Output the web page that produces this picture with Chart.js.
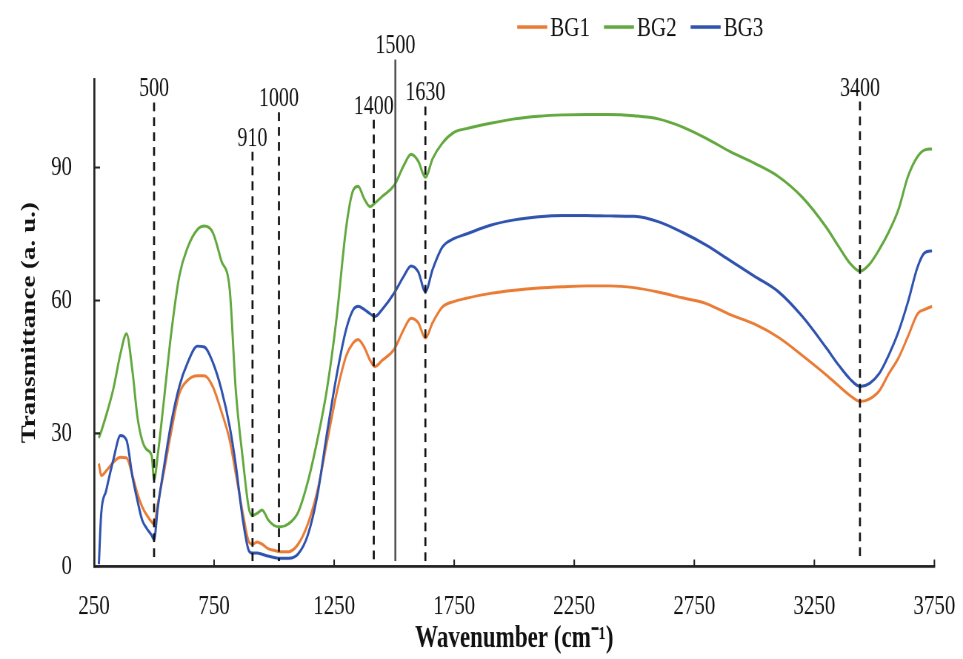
<!DOCTYPE html>
<html>
<head>
<meta charset="utf-8">
<title>FTIR BG1 BG2 BG3</title>
<script src="https://cdn.jsdelivr.net/npm/chart.js@4.4.1/dist/chart.umd.min.js"></script>
<style>
  html, body { margin: 0; padding: 0; background: #fff; overflow: hidden; }
  #wrap { width: 963px; height: 659px; }
  /* the source figure is stretched vertically, so the canvas is too */
  #chart { transform: scaleY(1.35041); transform-origin: 0 0; }
</style>
</head>
<body>
<div id="wrap"><canvas id="chart" width="963" height="488"></canvas></div>
<script>
const wavenumbers = [270, 280, 300, 330, 360, 385, 410, 430, 450, 470, 490, 500, 515, 540, 570, 605, 640, 680, 710, 745,
    780, 815, 840, 870, 895, 910, 930, 950, 975, 1000, 1025, 1060, 1100, 1140, 1180, 1220, 1260, 1300, 1330, 1350,
    1375, 1400, 1420, 1450, 1500, 1540, 1570, 1600, 1630, 1660, 1700, 1750, 1800, 1900, 2000, 2100, 2200, 2300, 2400, 2500,
    2600, 2700, 2800, 2900, 3000, 3100, 3200, 3300, 3350, 3400, 3440, 3480, 3520, 3560, 3600, 3640, 3680, 3710, 3740];

const bg1 = [23.2, 20.5, 21.5, 23.5, 24.6, 24.5, 20.5, 16.5, 13.5, 11.5, 10, 9.5, 14, 21, 30, 39, 42, 43, 43, 40.5,
    35, 28.5, 21, 11.9, 5.5, 5, 5.5, 5, 4, 3.6, 3.3, 3.3, 5, 9.5, 17, 28, 39, 47.5, 50.5, 51.2,
    49.5, 46.5, 45.1, 46.5, 49, 53.5, 56, 55, 51.5, 55, 58.5, 59.8, 60.5, 61.6, 62.3, 62.8, 63.1, 63.3, 63.3, 62.9,
    61.9, 60.6, 59.3, 56.8, 54.7, 51.7, 47.6, 43.2, 40.8, 38.5, 37.2, 37.8, 39.6, 43.5, 47, 51.9, 57, 58, 58.7];

const bg2 = [29, 30.5, 34, 40, 48, 52.5, 44, 34, 28.5, 26.3, 25, 19.5, 25, 37, 52, 65.5, 72, 76, 76.8, 75.3,
    69, 62.5, 40, 24, 13, 11.5, 12, 12.7, 10.5, 9.2, 8.9, 9.6, 12.2, 19, 28.5, 40, 56, 76.5, 85, 85.8,
    83, 81.2, 82, 83.5, 86, 90.5, 93, 91.5, 87.8, 92, 95.5, 98, 98.8, 100, 101, 101.6, 101.9, 102, 102, 101.7,
    101, 99.2, 96.6, 93.6, 91, 88, 83.3, 76.5, 72.3, 68.3, 66.6, 68.2, 71.5, 75.5, 80.5, 88, 92.5, 94, 94.2];

const bg3 = [0.5, 12, 17, 24, 29.5, 28.5, 20.2, 15, 10.5, 8.5, 7, 6, 13, 22, 32, 40.6, 46, 49.7, 49.5, 46,
    40, 31.5, 23, 10.4, 3.5, 3, 3, 2.7, 2.3, 2, 1.8, 1.8, 2.8, 7, 16, 30, 43, 53.5, 58, 58.7,
    58, 57, 56.4, 58, 61.7, 65.5, 67.8, 66.5, 62, 67, 72, 74, 75, 77, 78.2, 78.9, 79.2, 79.2, 79.1, 79,
    77.8, 75.4, 72.5, 69, 65.5, 62, 56.4, 49.3, 45.5, 42.2, 40.6, 41.3, 43.5, 47.7, 52.9, 59.7, 67.6, 70.8, 71.2];

const seriesNames = ['BG1', 'BG2', 'BG3'];
const seriesColors = ['#E97B34', '#62A83E', '#2E52AE'];

const xTicks = [250, 750, 1250, 1750, 2250, 2750, 3250, 3750];
const yTicks = [0, 30, 60, 90];

// band markers: where the line sits, its label and how high it reaches
const bandPositions = [500, 910, 1020, 1415, 1505, 1630, 3440];
const bandLabels = ['500', '910', '1000', '1400', '1500', '1630', '3400'];
const bandTops = [104.7, 93.6, 102.5, 100.8, 114.4, 103.8, 104.9];
const solidBand = '1500';

const FONT = '"Liberation Serif", "Times New Roman", serif';

function points(values) {
    return wavenumbers.map((w, i) => ({ x: w, y: values[i] }));
}

const bandLines = {
    id: 'bandLines',
    afterDatasetsDraw(chart) {
        const { ctx, scales: { x, y } } = chart;
        ctx.save();
        bandPositions.forEach((v, i) => {
            const px = x.getPixelForValue(v);
            const top = y.getPixelForValue(bandTops[i]);
            const bottom = y.getPixelForValue(1.2);
            const solid = bandLabels[i] === solidBand;
            ctx.beginPath();
            ctx.lineWidth = 2;
            ctx.strokeStyle = solid ? '#555' : '#111';
            ctx.setLineDash(solid ? [] : [6.5, 4.5]);
            ctx.moveTo(px, top);
            ctx.lineTo(px, bottom);
            ctx.stroke();
            ctx.setLineDash([]);
            ctx.fillStyle = '#111';
            ctx.font = '20px ' + FONT;
            ctx.textAlign = 'center';
            ctx.textBaseline = 'alphabetic';
            ctx.fillText(bandLabels[i], px, top - 4.5);
        });
        ctx.restore();
    }
};

// tick marks point into the plot, like the original
const innerTicks = {
    id: 'innerTicks',
    afterDraw(chart) {
        const { ctx, chartArea, scales: { x, y } } = chart;
        ctx.save();
        ctx.strokeStyle = '#222';
        ctx.lineWidth = 1.5;
        ctx.beginPath();
        x.ticks.forEach(t => {
            const px = x.getPixelForValue(t.value);
            ctx.moveTo(px, chartArea.bottom);
            ctx.lineTo(px, chartArea.bottom - 5);
        });
        y.ticks.forEach(t => {
            const py = y.getPixelForValue(t.value);
            ctx.moveTo(chartArea.left, py);
            ctx.lineTo(chartArea.left + 6, py);
        });
        ctx.stroke();
        ctx.restore();
    }
};

const topLegend = {
    id: 'topLegend',
    afterDraw(chart) {
        const { ctx } = chart;
        ctx.save();
        ctx.font = '21px ' + FONT;
        ctx.textBaseline = 'middle';
        ctx.textAlign = 'left';
        let lx = 517;
        const ly = 20;
        chart.data.datasets.forEach(ds => {
            ctx.strokeStyle = ds.borderColor;
            ctx.lineWidth = 2.5;
            ctx.beginPath();
            ctx.moveTo(lx, ly);
            ctx.lineTo(lx + 30, ly);
            ctx.stroke();
            ctx.fillStyle = '#111';
            ctx.fillText(ds.label, lx + 33, ly + 1);
            lx += 33 + ctx.measureText(ds.label).width + 14;
        });
        ctx.restore();
    }
};

const ctx = document.getElementById('chart');

const myChart = new Chart(ctx, {
    type: 'line',
    data: {
        datasets: seriesNames.map((name, i) => ({
            label: name,
            data: points([bg1, bg2, bg3][i]),
            borderColor: seriesColors[i],
            backgroundColor: seriesColors[i],
            borderWidth: 2.2,
            pointRadius: 0,
            cubicInterpolationMode: 'monotone',
            order: 2 - i
        }))
    },
    options: {
        responsive: false,
        devicePixelRatio: 1.3505,
        animation: false,
        layout: {
            padding: { top: 58.5, right: 29, bottom: 0, left: 0 }
        },
        plugins: {
            legend: { display: false },
            tooltip: { enabled: false }
        },
        scales: {
            x: {
                type: 'linear',
                min: 250,
                max: 3750,
                afterBuildTicks: s => { s.ticks = xTicks.map(v => ({ value: v })); },
                afterFit: s => {
                    s.height = 68.7;
                    s.paddingLeft = 0;
                    s.paddingRight = 0;
                },
                grid: { display: false, drawTicks: false },
                border: { color: '#222', width: 2 },
                ticks: {
                    padding: 17,
                    maxRotation: 0,
                    color: '#111',
                    font: { family: FONT, size: 21 },
                    callback: v => String(v)
                },
                title: {
                    display: true,
                    text: 'Wavenumber (cm⁻¹)',
                    color: '#111',
                    padding: { top: 0, bottom: 1.4 },
                    font: { family: FONT, size: 23, weight: 'bold' }
                }
            },
            y: {
                min: 0,
                max: 110,
                afterBuildTicks: s => { s.ticks = yTicks.map(v => ({ value: v })); },
                afterFit: s => { s.width = 94; },
                grid: { display: false, drawTicks: false },
                border: { color: '#222', width: 2 },
                ticks: {
                    padding: 22,
                    color: '#111',
                    font: { family: FONT, size: 21 },
                    callback: v => String(v)
                },
                title: {
                    display: true,
                    text: 'Transmittance (a. u.)',
                    color: '#111',
                    padding: { top: 18, bottom: 0 },
                    font: { family: FONT, size: 20, weight: 'bold' }
                }
            }
        }
    },
    plugins: [bandLines, innerTicks, topLegend]
});
</script>
</body>
</html>
